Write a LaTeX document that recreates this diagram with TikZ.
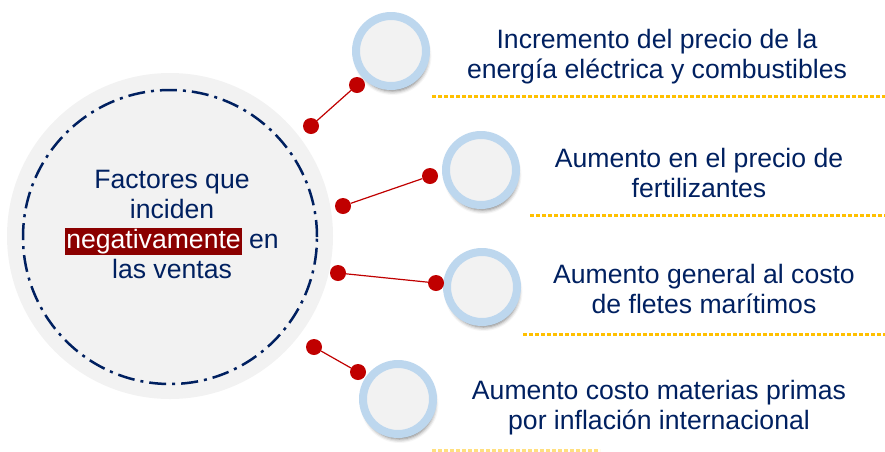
\documentclass[tikz,border=0pt]{standalone}
\usepackage{fontspec}
\setmainfont{Liberation Sans}
\usetikzlibrary{shadows.blur}
\definecolor{navy}{HTML}{002060}
\definecolor{ringblue}{HTML}{BDD7EE}
\definecolor{softgray}{HTML}{F2F2F2}
\definecolor{dotred}{HTML}{C00000}
\definecolor{hlred}{HTML}{8B0000}
\definecolor{gold}{HTML}{FFC000}
\begin{document}
\begin{tikzpicture}[x=1pt,y=-1pt,
  bubble/.style={circle, draw=ringblue, line width=8pt, fill=softgray, minimum size=70pt, inner sep=0pt,
    blur shadow={shadow xshift=1.5pt, shadow yshift=-5pt, shadow blur radius=4pt, shadow opacity=55}},
  reddot/.style={circle, fill=dotred, minimum size=16pt, inner sep=0pt},
  link/.style={draw=dotred, line width=1.2pt},
  goldline/.style={draw=gold, line width=3pt, dash pattern=on 3.5pt off 2.5pt},
  itemtext/.style={text=navy, align=center, font=\fontsize{26.6}{30}\selectfont, inner sep=0pt}]
\useasboundingbox (0,0) rectangle (885,451);

% central circle
\node[circle, fill=softgray, minimum size=326pt, inner sep=0pt] (big) at (170,236) {};
\node[circle, draw=navy, line width=2.5pt, minimum size=294pt, inner sep=0pt,
      dash pattern=on 17pt off 6pt on 3pt off 6pt] (ring) at (170,237) {};
\node[itemtext] (ctr) at (172,224) {Factores que\\inciden\\{\setlength{\fboxsep}{1pt}\colorbox{hlred}{\textcolor{white}{negativamente}}} en\\las ventas};

% bubbles
\node[bubble] (b1) at (391,51) {};
\node[bubble] (b2) at (481,170) {};
\node[bubble] (b3) at (482,287) {};
\node[bubble] (b4) at (398,399) {};

% red dots
\node[reddot] (d1a) at (311,126) {};
\node[reddot] (d1b) at (357,85) {};
\node[reddot] (d2a) at (343,206) {};
\node[reddot] (d2b) at (430,176) {};
\node[reddot] (d3a) at (338,273) {};
\node[reddot] (d3b) at (436,283) {};
\node[reddot] (d4a) at (314,347) {};
\node[reddot] (d4b) at (358,372) {};
\draw[link] (d1a) -- (d1b);
\draw[link] (d2a) -- (d2b);
\draw[link] (d3a) -- (d3b);
\draw[link] (d4a) -- (d4b);

% texts
\node[itemtext] (t1) at (657,57) {Incremento del precio de la\\energía eléctrica y combustibles};
\node[itemtext] (t2) at (699,173) {Aumento en el precio de\\fertilizantes};
\node[itemtext] (t3) at (704,289) {Aumento general al costo\\de fletes marítimos};
\node[itemtext] (t4) at (659,408) {Aumento costo materias primas\\por inflación internacional};

% gold dotted lines
\coordinate (g1a) at (432,96);  \coordinate (g1b) at (885,96);
\coordinate (g2a) at (530,215); \coordinate (g2b) at (885,215);
\coordinate (g3a) at (523,334); \coordinate (g3b) at (885,334);
\coordinate (g4a) at (432,450); \coordinate (g4b) at (600,450);
\draw[goldline] (g1a) -- (g1b);
\draw[goldline] (g2a) -- (g2b);
\draw[goldline] (g3a) -- (g3b);
\draw[goldline, draw opacity=0.5] (g4a) -- (g4b);
\end{tikzpicture}
\end{document}
